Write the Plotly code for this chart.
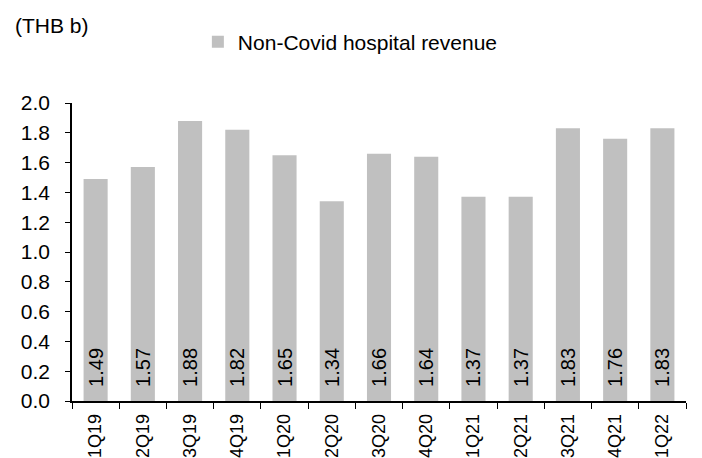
import plotly.graph_objects as go

categories = ["1Q19", "2Q19", "3Q19", "4Q19", "1Q20", "2Q20", "3Q20", "4Q20",
              "1Q21", "2Q21", "3Q21", "4Q21", "1Q22"]
values = [1.49, 1.57, 1.88, 1.82, 1.65, 1.34, 1.66, 1.64, 1.37, 1.37, 1.83, 1.76, 1.83]
series_name = "Non-Covid hospital revenue"
unit_label = "(THB b)"

FONT = "Liberation Sans, Arial, sans-serif"
FS = 21
PLOT_H = 298  # plot-area height in px (t=103, b=57 of 458)

fig = go.Figure()
fig.add_trace(go.Bar(
    x=categories, y=values, name=series_name,
    marker=dict(color="#C0C0C0", line=dict(width=0)),
    text=[f"\u00a0\u00a0{v:.2f}" for v in values],
    textposition="inside", insidetextanchor="start", textangle=-90,
    textfont=dict(family=FONT, size=FS - 1, color="#000000"),
    showlegend=True,
))

fig.update_layout(
    width=702, height=458,
    margin=dict(l=72, r=16, t=103, b=57, autoexpand=False),
    paper_bgcolor="white", plot_bgcolor="white",
    font=dict(family=FONT, size=FS, color="#000000"),
    bargap=0.49,
    uniformtext=dict(minsize=FS - 1, mode="show"),
    showlegend=True,
    legend=dict(orientation="h", x=0.205, y=1.0 + 61 / PLOT_H,
                xanchor="left", yanchor="middle",
                font=dict(family=FONT, size=FS, color="#000000"),
                itemwidth=30, bgcolor="rgba(0,0,0,0)"),
)
fig.add_annotation(text=unit_label, xref="paper", yref="paper",
                   x=-0.096, y=1.0 + 78 / PLOT_H, xanchor="left", yanchor="middle",
                   showarrow=False, font=dict(family=FONT, size=FS, color="#000000"))

fig.update_xaxes(
    type="category", showline=True, linecolor="#000000", linewidth=1.5,
    ticks="outside", ticklen=6, tickcolor="#000000", tickson="boundaries",
    tickangle=-90, ticklabelstandoff=4,
    tickfont=dict(family=FONT, size=18, color="#000000"),
    showgrid=False, automargin=False,
)
fig.update_yaxes(
    range=[0, 2.0], dtick=0.2, tick0=0, tickformat=".1f",
    showline=True, linecolor="#000000", linewidth=1.5,
    ticks="outside", ticklen=5, tickcolor="#000000", ticklabelstandoff=11,
    tickfont=dict(family=FONT, size=FS, color="#000000"),
    showgrid=False, zeroline=False, automargin=False,
)

fig.write_html("out.html")
